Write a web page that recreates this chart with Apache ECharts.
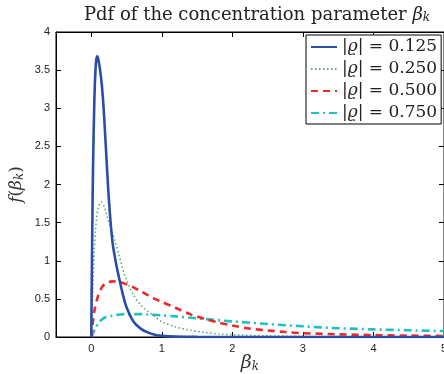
<!DOCTYPE html>
<html><head><meta charset="utf-8">
<script src="https://cdn.jsdelivr.net/npm/echarts@6/dist/echarts.min.js"></script>
<style>html,body{margin:0;padding:0;background:#fff}#c{width:444px;height:374px}</style>
</head><body><div id="c"></div>
<script>
var legendLabels = ['0.125', '0.250', '0.500', '0.750'];
var xTicks = [0, 1, 2, 3, 4, 5];
var yTicks = [0, 0.5, 1, 1.5, 2, 2.5, 3, 3.5, 4];

var beta125 = [0, 0.005, 0.01, 0.02, 0.03, 0.04, 0.05, 0.06, 0.07, 0.085, 0.1, 0.125, 0.15, 0.175, 0.2, 0.25, 0.3, 0.35, 0.4, 0.45, 0.5, 0.6, 0.7, 0.8, 0.9, 1.0, 1.2, 1.5, 2, 3, 4, 5];
var pdf125  = [0, 0.55, 1.0, 1.9, 2.5, 2.95, 3.3, 3.5, 3.63, 3.68, 3.64, 3.5, 3.3, 3.0, 2.6, 1.8, 1.25, 0.97, 0.75, 0.55, 0.39, 0.2, 0.11, 0.06, 0.03, 0.015, 0.005, 0.001, 0, 0, 0, 0];

var beta250 = [0, 0.01, 0.02, 0.04, 0.06, 0.08, 0.1, 0.14, 0.18, 0.22, 0.26, 0.3, 0.34, 0.4, 0.46, 0.5, 0.6, 0.7, 0.8, 0.9, 1.0, 1.2, 1.4, 1.6, 1.8, 2.0, 2.5, 3, 4, 5];
var pdf250  = [0, 0.35, 0.6, 1.1, 1.4, 1.6, 1.7, 1.77, 1.72, 1.6, 1.48, 1.36, 1.25, 1.05, 0.85, 0.75, 0.55, 0.42, 0.34, 0.27, 0.2, 0.13, 0.09, 0.06, 0.04, 0.03, 0.015, 0.008, 0.002, 0];

var beta500 = [0, 0.02, 0.05, 0.1, 0.15, 0.2, 0.3, 0.4, 0.5, 0.6, 0.7, 0.8, 0.9, 1.0, 1.2, 1.4, 1.6, 1.8, 2.0, 2.25, 2.5, 2.75, 3.0, 3.5, 4.0, 4.5, 5];
var pdf500  = [0, 0.18, 0.37, 0.55, 0.65, 0.7, 0.73, 0.72, 0.69, 0.65, 0.6, 0.55, 0.5, 0.46, 0.38, 0.3, 0.24, 0.19, 0.15, 0.11, 0.085, 0.065, 0.05, 0.035, 0.025, 0.018, 0.013];

var beta750 = [0, 0.03, 0.06, 0.1, 0.15, 0.2, 0.3, 0.4, 0.5, 0.6, 0.7, 0.8, 1.0, 1.2, 1.5, 2.0, 2.5, 3.0, 3.5, 4.0, 4.5, 5];
var pdf750  = [0, 0.06, 0.12, 0.18, 0.23, 0.26, 0.28, 0.295, 0.3, 0.3, 0.3, 0.295, 0.285, 0.27, 0.245, 0.205, 0.17, 0.14, 0.115, 0.1, 0.088, 0.078];

function pairs(xs, ys) { return xs.map(function (x, i) { return [x, ys[i]]; }); }

var serif = '"DejaVu Serif", "Liberation Serif", serif';
var sans = '"Liberation Sans", Arial, sans-serif';

var seriesDefs = [
  {x: beta125, y: pdf125, color: '#2a4ea6', width: 2.6, type: 'solid'},
  {x: beta250, y: pdf250, color: '#5aaa78', width: 1.6, type: [1.5, 2.5]},
  {x: beta500, y: pdf500, color: '#f02828', width: 2.6, type: [7, 5]},
  {x: beta750, y: pdf750, color: '#22c0c2', width: 2.6, type: [8, 4, 2, 4]}
];

var chart = echarts.init(document.getElementById('c'), null, {renderer: 'canvas'});
chart.setOption({
  animation: false,
  backgroundColor: '#fff',
  title: {
    text: '{a|Pdf of the concentration parameter }{b|β}{c|k}',
    left: 252, textAlign: 'center', top: 1,
    textStyle: {
      fontWeight: 'normal',
      rich: {
        a: {fontFamily: serif, fontSize: 18, fontWeight: 'normal', color: '#222'},
        b: {fontFamily: serif, fontSize: 18, fontWeight: 'normal', fontStyle: 'italic', color: '#222'},
        c: {fontFamily: serif, fontSize: 12, fontWeight: 'normal', fontStyle: 'italic', color: '#222', verticalAlign: 'bottom', padding: [6, 0, 0, 0]}
      }
    }
  },
  grid: {left: 56, right: 0, top: 32, bottom: 37, show: true, borderColor: '#000', borderWidth: 1,
    backgroundColor: '#fff', containLabel: false, outerBoundsMode: 'none'},
  legend: {
    orient: 'vertical', left: 306, top: 35,
    backgroundColor: '#fff', borderColor: '#000', borderWidth: 1,
    padding: [2, 4, 1, 4], itemWidth: 26, itemHeight: 14, itemGap: 2,
    itemStyle: {opacity: 0},
    data: legendLabels.map(function (l) { return '|ρ| = ' + l; }),
    formatter: function (name) { return '|{i|ϱ}| = ' + name.split('= ')[1]; },
    textStyle: {
      fontFamily: serif, fontSize: 17, color: '#222', lineHeight: 20,
      rich: {i: {fontFamily: serif, fontSize: 17, fontStyle: 'italic', color: '#222', lineHeight: 20}}
    }
  },
  xAxis: [{
    type: 'value', min: -0.5, max: 5, interval: 0.5,
    name: '{b|β}{c|k}', nameLocation: 'middle', nameGap: 16, nameMoveOverlap: false,
    nameTextStyle: {rich: {
      b: {fontFamily: serif, fontSize: 19, fontStyle: 'italic', color: '#333'},
      c: {fontFamily: serif, fontSize: 12, fontStyle: 'italic', color: '#333', verticalAlign: 'bottom', padding: [8, 0, 0, 0]}
    }},
    axisLine: {show: true, onZero: false, lineStyle: {color: '#000', width: 1}},
    axisTick: {show: true, inside: true, length: 5, lineStyle: {color: '#000'},
      customValues: xTicks},
    axisLabel: {fontFamily: sans, fontSize: 11, color: '#222', margin: 6, customValues: xTicks,
      formatter: function (v) { return String(v); }},
    splitLine: {show: false}
  }, {
    type: 'value', position: 'top', min: -0.5, max: 5, interval: 0.5,
    axisLine: {show: true, onZero: false, lineStyle: {color: '#000'}},
    axisTick: {show: true, inside: true, length: 5, lineStyle: {color: '#000'}, customValues: xTicks},
    axisLabel: {show: false}, splitLine: {show: false}
  }],
  yAxis: [{
    type: 'value', min: 0, max: 4, interval: 0.5,
    name: '{f|f}{p|(}{b|β}{c|k}{p|)}', nameLocation: 'middle', nameGap: 30, nameRotate: 90, nameMoveOverlap: false,
    nameTextStyle: {rich: {
      f: {fontFamily: serif, fontSize: 17, fontStyle: 'italic', color: '#333'},
      p: {fontFamily: serif, fontSize: 17, color: '#333'},
      b: {fontFamily: serif, fontSize: 17, fontStyle: 'italic', color: '#333'},
      c: {fontFamily: serif, fontSize: 12, fontStyle: 'italic', color: '#333', verticalAlign: 'bottom', padding: [7, 0, 0, 0]}
    }},
    axisLine: {show: true, onZero: false, lineStyle: {color: '#000', width: 1}},
    axisTick: {show: true, inside: true, length: 5, lineStyle: {color: '#000'}},
    axisLabel: {fontFamily: sans, fontSize: 11, color: '#222', margin: 6,
      formatter: function (v) { return yTicks.indexOf(v) >= 0 ? String(v) : ''; }},
    splitLine: {show: false}
  }, {
    type: 'value', position: 'right', min: 0, max: 4, interval: 0.5,
    axisLine: {show: true, onZero: false, lineStyle: {color: '#000'}},
    axisTick: {show: true, inside: true, length: 5, lineStyle: {color: '#000'}},
    axisLabel: {show: false}, splitLine: {show: false}
  }],
  series: seriesDefs.map(function (s, i) {
    return {
      name: '|ρ| = ' + legendLabels[i], type: 'line', smooth: 0.3, showSymbol: false, symbol: 'none',
      data: pairs(s.x, s.y), clip: true,
      lineStyle: {color: s.color, width: s.width, type: s.type},
      itemStyle: {color: s.color}, z: 10 - i
    };
  })
});
</script></body></html>
